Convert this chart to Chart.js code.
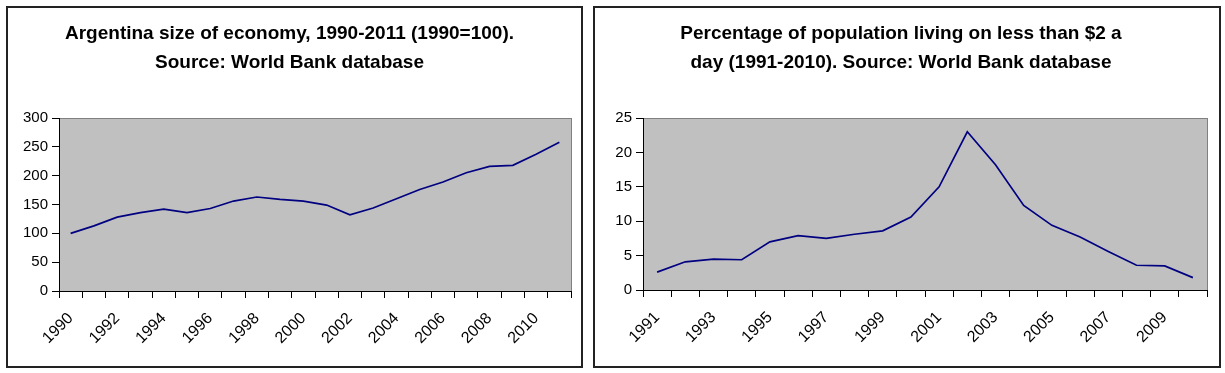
<!DOCTYPE html>
<html>
<head>
<meta charset="utf-8">
<script src="https://cdn.jsdelivr.net/npm/chart.js@4/dist/chart.umd.min.js"></script>
<style>
  body { margin: 0; background: #fff; width: 1225px; height: 373px; position: relative; overflow: hidden; }
  .box { position: absolute; border: 2px solid #222; box-sizing: border-box; background: #fff; }
  .box canvas { display: block; }
</style>
</head>
<body>
<div class="box" id="boxA" style="left:6px; top:6px; width:577px; height:362px;">
  <canvas id="economyChart" width="573" height="358"></canvas>
</div>
<div class="box" id="boxB" style="left:593px; top:6px; width:628px; height:362px;">
  <canvas id="povertyChart" width="624" height="358"></canvas>
</div>
<script>
// Argentina size of economy (1990 = 100)
const economyYears = ['1990','1991','1992','1993','1994','1995','1996','1997','1998','1999','2000',
  '2001','2002','2003','2004','2005','2006','2007','2008','2009','2010','2011'];
const economyIndex = [100, 113, 128, 136, 142, 136, 143, 156, 163, 159, 156,
  149, 132, 144, 160, 176, 189, 205, 216, 218, 237, 258];

// Percentage of population living on less than $2 a day
const povertyYears = ['1991','1992','1993','1994','1995','1996','1997','1998','1999','2000',
  '2001','2002','2003','2004','2005','2006','2007','2008','2009','2010'];
const povertyPct = [2.6, 4.1, 4.5, 4.4, 7.0, 7.9, 7.5, 8.1, 8.6, 10.6,
  15.0, 23.0, 18.2, 12.3, 9.4, 7.7, 5.6, 3.6, 3.5, 1.8];

const economyTitle = ['Argentina size of economy, 1990-2011 (1990=100).', 'Source: World Bank database'];
const povertyTitle = ['Percentage of population living on less than $2 a', 'day (1991-2010). Source: World Bank database'];

Chart.defaults.font.family = "'Liberation Sans', Arial, sans-serif";
Chart.defaults.color = '#000';
Chart.defaults.animation = false;

// grey plot area like the old spreadsheet charts
const plotBackground = {
  id: 'plotBackground',
  beforeDraw(chart) {
    const { ctx, chartArea: a } = chart;
    ctx.save();
    ctx.fillStyle = '#c0c0c0';
    ctx.fillRect(a.left, a.top, a.width, a.height);
    ctx.strokeStyle = '#808080';
    ctx.lineWidth = 1;
    ctx.strokeRect(Math.round(a.left) + 0.5, Math.round(a.top) + 0.5, Math.round(a.width), Math.round(a.height));
    ctx.restore();
  }
};

function makeChart(canvasId, labels, values, title, yMax, yStep, yWidth, xHeight, rightPad) {
  const ctx = document.getElementById(canvasId);
  return new Chart(ctx, {
    type: 'line',
    data: {
      labels,
      datasets: [{
        data: values,
        borderColor: '#000080',
        borderWidth: 1.7,
        pointRadius: 0,
        fill: false,
        tension: 0
      }]
    },
    options: {
      responsive: false,
      layout: { padding: { left: 0, right: rightPad, top: 0, bottom: 0 } },
      plugins: {
        legend: { display: false },
        tooltip: { enabled: false },
        title: {
          display: true,
          text: title,
          color: '#000',
          font: { size: 19, weight: 'bold', lineHeight: '29px' },
          padding: { top: 11, bottom: 41 }
        }
      },
      scales: {
        x: {
          offset: true,
          grid: { offset: true, drawOnChartArea: false, drawTicks: true, tickLength: 7, color: '#000' },
          border: { color: '#000', width: 1 },
          ticks: {
            autoSkip: false,
            minRotation: 45,
            maxRotation: 45,
            padding: 11,
            font: { size: 16 },
            callback: function (val, i) { return i % 2 === 0 ? this.getLabelForValue(val) : ''; }
          },
          afterFit(scale) {
            scale.height = xHeight;
            // keep the plot edges where the layout padding puts them
            scale.paddingLeft = 0;
            scale.paddingRight = 0;
          }
        },
        y: {
          min: 0,
          max: yMax,
          grid: { drawOnChartArea: false, drawTicks: true, tickLength: 7, color: '#000' },
          border: { color: '#000', width: 1 },
          ticks: { stepSize: yStep, padding: 4, font: { size: 15 } },
          afterFit(scale) { scale.width = yWidth; }
        }
      }
    },
    plugins: [plotBackground]
  });
}

makeChart('economyChart', economyYears, economyIndex, economyTitle, 300, 50, 51, 75, 10);
makeChart('povertyChart', povertyYears, povertyPct, povertyTitle, 25, 5, 48, 76, 12);
</script>
</body>
</html>
